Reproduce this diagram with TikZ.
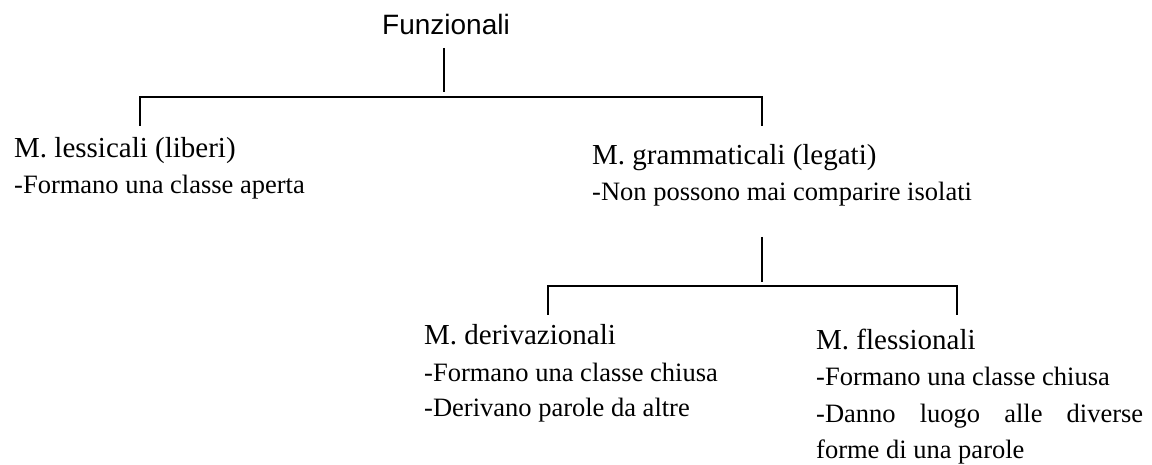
\documentclass[tikz,border=0pt]{standalone}
\usepackage{fontspec}
\setmainfont{Liberation Serif}
\newfontfamily\titlefont{Liberation Sans}
\begin{document}
\begin{tikzpicture}[x=1pt,y=-1pt,
  lbl/.style={anchor=base west,inner sep=0pt,font=\fontsize{26.5}{30}\selectfont},
  head/.style={anchor=base west,inner sep=0pt,font=\fontsize{29}{33}\selectfont},
  ttl/.style={anchor=base,inner sep=0pt,font=\titlefont\fontsize{28}{32}\selectfont},
  conn/.style={line width=1.6pt,line join=miter}]
\useasboundingbox (0,0) rectangle (1152,465);
% title
\node[ttl] (fun) at (446,35) {Funzionali};
% first level
\node[head] (less) at (14,158) {M. lessicali (liberi)};
\node[lbl] (lessA) at (14,194) {-Formano una classe aperta};
\node[head] (gram) at (592,165) {M. grammaticali (legati)};
\node[lbl] (gramA) at (592,201) {-Non possono mai comparire isolati};
% second level
\node[head] (deriv) at (424,344) {M. derivazionali};
\node[lbl] (derivA) at (424,381) {-Formano una classe chiusa};
\node[lbl] (derivB) at (424,416) {-Derivano parole da altre};
\node[head] (fless) at (816,349) {M. flessionali};
\node[lbl] (flessA) at (816,385) {-Formano una classe chiusa};
\node[lbl] (flessB) at (816,422) {\hbox to 327pt{-Danno\hfill luogo\hfill alle\hfill diverse}};
\node[lbl] (flessC) at (816,458) {forme di una parole};
% connector points
\coordinate (t1) at (444,48);
\coordinate (t2) at (444,92);
\coordinate (lb) at (140,126);
\coordinate (lc) at (140,97);
\coordinate (rc) at (762,97);
\coordinate (rb) at (762,126);
\coordinate (g1) at (762,237);
\coordinate (g2) at (762,282);
\coordinate (db) at (548,315);
\coordinate (dc) at (548,286);
\coordinate (fc) at (957,286);
\coordinate (fb) at (957,315);
\draw[conn] (t1) -- (t2);
\draw[conn] (lb) -- (lc) -- (rc) -- (rb);
\draw[conn] (g1) -- (g2);
\draw[conn] (db) -- (dc) -- (fc) -- (fb);
\end{tikzpicture}
\end{document}
